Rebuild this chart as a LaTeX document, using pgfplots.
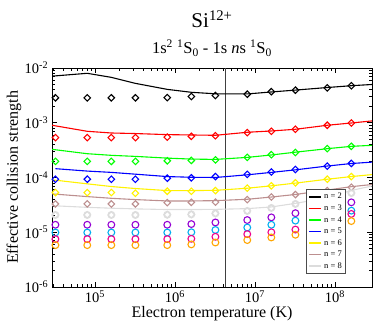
\documentclass[border=0pt]{standalone}
\usepackage{pgfplots}
\pgfplotsset{compat=1.18}
\usepackage{fontspec}
\setmainfont{Liberation Serif}

% xmgrace palette
\definecolor{gbrown}{RGB}{188,143,143}
\definecolor{ggrey}{RGB}{220,220,220}
\definecolor{gviolet}{RGB}{148,0,211}
\definecolor{gorange}{RGB}{255,165,0}

\begin{document}
\begin{tikzpicture}
  \begin{axis}[
    scale only axis,
    width=320pt, height=219pt,
    xmode=log, ymode=log,
    xmin=2.9e4, xmax=2.9e8,
    ymin=1e-6, ymax=1e-2,
    tick align=inside,
    axis line style={line width=0.8pt},
    major tick length=5pt, minor tick length=3pt,
    every tick/.style={black, line width=0.6pt},
    xticklabel={10\textsuperscript{\pgfmathparse{int(round(\tick/ln(10)))}\pgfmathresult}},
    yticklabel={10\textsuperscript{\pgfmathparse{int(round(\tick/ln(10)))}\pgfmathresult}},
    ticklabel style={font=\fontsize{14.5}{16}\selectfont},
    xlabel={Electron temperature (K)},
    ylabel={Effective collision strength},
    label style={font=\fontsize{16}{18}\selectfont},
    xlabel style={yshift=4pt},
    ylabel style={yshift=-4pt},
    legend cell align=left,
    legend style={at={(rel axis cs:0.794,0.059)}, anchor=south west,
      font=\fontsize{8.5}{10}\selectfont, draw=black!70,
      inner xsep=2pt, inner ysep=2pt, row sep=0.4pt},
    legend image code/.code={\draw[#1, line width=1.6pt] (0pt,0pt) -- (12pt,0pt);},
    line width=1.1pt,
    clip mode=individual,
  ]
    % vertical marker
    \addplot[forget plot, black!75, line width=0.8pt] coordinates {(4.3e6,1e-6) (4.3e6,1e-2)};

    % lines (legend)
    \addplot[black, mark=none] coordinates {
      (2.9e4,7.1e-3) (8e4,8.0e-3) (1.6e5,6.75e-3) (3.2e5,5.24e-3) (8e5,4.07e-3)
      (1.6e6,3.6e-3) (3.2e6,3.38e-3) (8e6,3.36e-3) (1.6e7,3.65e-3) (3.2e7,3.95e-3)
      (8e7,4.4e-3) (1.6e8,4.75e-3) (2.9e8,5.0e-3)};
    \addlegendentry{n = 2}
    \addplot[red, mark=none] coordinates {
      (2.9e4,9.0e-4) (8e4,6.98e-4) (1.6e5,6.5e-4) (3.2e5,6.35e-4) (8e5,6.07e-4)
      (1.6e6,5.98e-4) (3.2e6,5.9e-4) (8e6,6.7e-4) (1.6e7,7.08e-4) (3.2e7,7.6e-4)
      (8e7,9.0e-4) (1.6e8,9.9e-4) (2.9e8,1.08e-3)};
    \addlegendentry{n = 3}
    \addplot[green, mark=none] coordinates {
      (2.9e4,3.27e-4) (8e4,2.72e-4) (1.6e5,2.54e-4) (3.2e5,2.43e-4) (8e5,2.26e-4)
      (1.6e6,2.17e-4) (3.2e6,2.14e-4) (8e6,2.33e-4) (1.6e7,2.58e-4) (3.2e7,2.9e-4)
      (8e7,3.36e-4) (1.6e8,3.71e-4) (2.9e8,3.87e-4)};
    \addlegendentry{n = 4}
    \addplot[blue, mark=none] coordinates {
      (3.2e4,1.45e-4) (8e4,1.31e-4) (1.6e5,1.24e-4) (3.2e5,1.15e-4) (8e5,1.04e-4)
      (1.6e6,1.01e-4) (3.2e6,1.0e-4) (8e6,1.12e-4) (1.6e7,1.24e-4) (3.2e7,1.38e-4)
      (8e7,1.62e-4) (1.6e8,1.8e-4) (2.9e8,1.91e-4)};
    \addlegendentry{n = 5}
    \addplot[yellow, mark=none] coordinates {
      (2.9e4,9.08e-5) (8e4,7.66e-5) (1.6e5,6.84e-5) (3.2e5,6.29e-5) (8e5,5.77e-5)
      (1.6e6,5.77e-5) (3.2e6,5.83e-5) (8e6,6.37e-5) (1.6e7,7.05e-5) (3.2e7,7.9e-5)
      (8e7,9.3e-5) (1.6e8,1.04e-4) (2.9e8,1.13e-4)};
    \addlegendentry{n = 6}
    \addplot[gbrown, mark=none] coordinates {
      (2.9e4,5.02e-5) (8e4,4.48e-5) (1.6e5,4.17e-5) (3.2e5,3.95e-5) (8e5,3.73e-5)
      (1.6e6,3.73e-5) (3.2e6,3.78e-5) (8e6,4.0e-5) (1.6e7,4.4e-5) (3.2e7,4.9e-5)
      (8e7,5.9e-5) (1.6e8,6.8e-5) (2.9e8,7.45e-5)};
    \addlegendentry{n = 7}
    \addplot[ggrey, mark=none] coordinates {
      (2.9e4,3.06e-5) (8e4,2.85e-5) (1.6e5,2.75e-5) (3.2e5,2.67e-5) (8e5,2.6e-5)
      (1.6e6,2.6e-5) (3.2e6,2.62e-5) (8e6,2.7e-5) (1.6e7,2.9e-5) (3.2e7,3.37e-5)
      (8e7,4.25e-5) (1.6e8,5.8e-5) (2.9e8,7.0e-5)};
    \addlegendentry{n = 8}

    % diamonds
    \pgfplotsset{dia/.style={forget plot, only marks, mark=square, mark size=2.3pt,
      mark options={rotate=45, line width=1.1pt, fill=none}}}
    \addplot[dia, black] coordinates {
      (3.2e4,2.85e-3) (8e4,2.85e-3) (1.6e5,2.85e-3) (3.2e5,2.85e-3) (8e5,2.88e-3)
      (1.6e6,3.02e-3) (3.2e6,3.15e-3) (8e6,3.32e-3) (1.6e7,3.7e-3) (3.2e7,3.94e-3)
      (8e7,4.35e-3) (1.6e8,4.74e-3)};
    \addplot[dia, red] coordinates {
      (3.2e4,5.35e-4) (8e4,5.35e-4) (1.6e5,5.35e-4) (3.2e5,5.35e-4) (8e5,5.48e-4)
      (1.6e6,5.65e-4) (3.2e6,5.8e-4) (8e6,6.6e-4) (1.6e7,6.98e-4) (3.2e7,7.6e-4)
      (8e7,9.0e-4) (1.6e8,9.9e-4)};
    \addplot[dia, green] coordinates {
      (3.2e4,1.97e-4) (8e4,1.97e-4) (1.6e5,1.97e-4) (3.2e5,1.97e-4) (8e5,2.02e-4)
      (1.6e6,2.05e-4) (3.2e6,2.1e-4) (8e6,2.33e-4) (1.6e7,2.61e-4) (3.2e7,2.86e-4)
      (8e7,3.36e-4) (1.6e8,3.71e-4)};
    \addplot[dia, blue] coordinates {
      (3.2e4,9.3e-5) (8e4,9.3e-5) (1.6e5,9.3e-5) (3.2e5,9.3e-5) (8e5,9.7e-5)
      (1.6e6,9.86e-5) (3.2e6,1.04e-4) (8e6,1.14e-4) (1.6e7,1.26e-4) (3.2e7,1.4e-4)
      (8e7,1.61e-4) (1.6e8,1.81e-4)};
    \addplot[dia, yellow] coordinates {
      (3.2e4,5.31e-5) (8e4,5.31e-5) (1.6e5,5.31e-5) (3.2e5,5.15e-5) (8e5,5.61e-5)
      (1.6e6,5.6e-5) (3.2e6,5.77e-5) (8e6,6.4e-5) (1.6e7,7.05e-5) (3.2e7,8.0e-5)
      (8e7,9.3e-5) (1.6e8,1.04e-4)};
    \addplot[dia, gbrown] coordinates {
      (3.2e4,3.29e-5) (8e4,3.29e-5) (1.6e5,3.29e-5) (3.2e5,3.29e-5) (8e5,3.47e-5)
      (1.6e6,3.52e-5) (3.2e6,3.55e-5) (8e6,3.95e-5) (1.6e7,4.4e-5) (3.2e7,4.88e-5)
      (8e7,5.77e-5) (1.6e8,6.64e-5)};
    \addplot[dia, ggrey] coordinates {
      (3.2e4,2.07e-5) (8e4,2.07e-5) (1.6e5,2.07e-5) (3.2e5,2.07e-5) (8e5,2.09e-5)
      (1.6e6,2.12e-5) (3.2e6,2.21e-5) (8e6,2.45e-5) (1.6e7,2.78e-5) (3.2e7,3.29e-5)
      (8e7,4.06e-5) (1.6e8,5.2e-5)};

    % circles
    \pgfplotsset{cir/.style={forget plot, only marks, mark=o, mark size=3.4pt,
      mark options={line width=1.1pt}}}
    \addplot[cir, ggrey] coordinates {
      (3.2e4,2.07e-5) (8e4,2.07e-5) (1.6e5,2.07e-5) (3.2e5,2.07e-5) (8e5,2.09e-5)
      (1.6e6,2.12e-5) (3.2e6,2.21e-5) (8e6,2.45e-5) (1.6e7,2.78e-5) (3.2e7,3.29e-5)
      (8e7,4.06e-5) (1.6e8,5.2e-5)};
    \addplot[cir, gviolet] coordinates {
      (3.2e4,1.37e-5) (8e4,1.37e-5) (1.6e5,1.37e-5) (3.2e5,1.37e-5) (8e5,1.37e-5)
      (1.6e6,1.41e-5) (3.2e6,1.51e-5) (8e6,1.67e-5) (1.6e7,1.87e-5) (3.2e7,2.23e-5)
      (8e7,2.8e-5) (1.6e8,3.52e-5)};
    \addplot[cir, cyan] coordinates {
      (3.2e4,9.9e-6) (8e4,9.9e-6) (1.6e5,9.9e-6) (3.2e5,9.9e-6) (8e5,9.9e-6)
      (1.6e6,1.0e-5) (3.2e6,1.1e-5) (8e6,1.22e-5) (1.6e7,1.37e-5) (3.2e7,1.63e-5)
      (8e7,2.0e-5) (1.6e8,2.48e-5)};
    \addplot[cir, magenta] coordinates {
      (3.2e4,7.5e-6) (8e4,7.5e-6) (1.6e5,7.5e-6) (3.2e5,7.5e-6) (8e5,7.5e-6)
      (1.6e6,7.6e-6) (3.2e6,8.27e-6) (8e6,9.26e-6) (1.6e7,1.0e-5) (3.2e7,1.12e-5)
      (8e7,1.4e-5) (1.6e8,2.16e-5)};
    \addplot[cir, gorange] coordinates {
      (3.2e4,5.82e-6) (8e4,5.82e-6) (1.6e5,5.82e-6) (3.2e5,5.82e-6) (8e5,5.82e-6)
      (1.6e6,6.0e-6) (3.2e6,6.5e-6) (8e6,7.2e-6) (1.6e7,8.03e-6) (3.2e7,9.0e-6)
      (8e7,1.2e-5) (1.6e8,1.6e-5)};
  \end{axis}
  \node[anchor=base, font=\fontsize{21}{23}\selectfont]
    at ([yshift=40pt]current axis.north) {Si\textsuperscript{12+}};
  \node[anchor=base, font=\fontsize{16.5}{18}\selectfont]
    at ([yshift=14pt]current axis.north)
    {1s\textsuperscript{2} \textsuperscript{1}S\textsubscript{0} - 1s \textit{n}s \textsuperscript{1}S\textsubscript{0}};
  \pgfresetboundingbox
  \path ([xshift=-52pt,yshift=-43pt]current axis.south west)
    rectangle ([xshift=2pt,yshift=68pt]current axis.north east);
\end{tikzpicture}
\end{document}
